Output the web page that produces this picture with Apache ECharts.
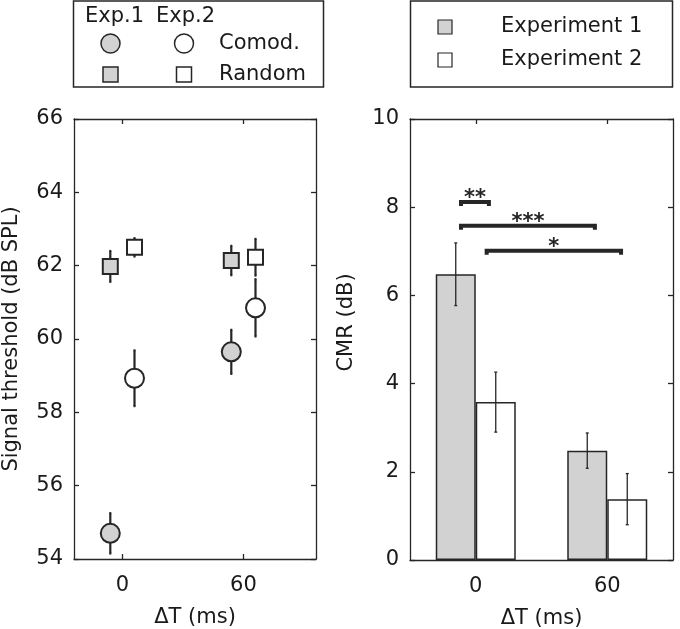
<!DOCTYPE html>
<html><head><meta charset="utf-8">
<script src="https://cdn.jsdelivr.net/npm/echarts@6/dist/echarts.min.js"></script>
<style>html,body{margin:0;padding:0;background:#fff}#c{width:680px;height:629px}</style>
</head><body><div id="c"></div>
<script>
// ---- data ----
const dtLabels = ['0', '60'];
const dtValues = [0, 60];
// Left panel: signal threshold (dB SPL)
const exp1Comod = [54.70, 59.65];
const exp1ComodErr = [0.55, 0.60];
const exp2Comod = [58.93, 60.85];
const exp2ComodErr = [0.76, 0.78];
const exp1Random = [61.98, 62.14];
const exp1RandomErr = [0.42, 0.40];
const exp2Random = [62.50, 62.23];
const exp2RandomErr = [0.25, 0.50];
// Right panel: CMR (dB)
const cmrExp1 = [6.48, 2.48];
const cmrExp1Err = [0.71, 0.40];
const cmrExp2 = [3.58, 1.38];
const cmrExp2Err = [0.68, 0.58];
// significance brackets (x in bar-slot units 1..2, y in dB)
const sigLabels = ['**', '***', '*'];
const sigFrom = [0.888, 0.888, 1.083];
const sigTo = [1.10, 1.906, 2.105];
const sigLevel = [8.12, 7.58, 7.01];

// ---- style ----
const INK = '#262626';
const GRAY = '#d2d2d2';
const FONT = 'DejaVu Sans';
const FS = 21;
const DODGE = 6;      // horizontal dodge of Exp.1 / Exp.2 markers (ms units)
const BAR_W = 40;

const chart = echarts.init(document.getElementById('c'), null, {renderer: 'canvas'});

function errRender(capHalf, lw, pxShift) {
  return function (params, api) {
    const x = api.value(0), y = api.value(1), e = api.value(2);
    const t = api.coord([x, y + e]), b = api.coord([x, y - e]);
    const cx = t[0] + (pxShift || 0);
    const st = {stroke: INK, lineWidth: lw};
    return {type: 'group', children: [
      {type: 'line', shape: {x1: cx, y1: t[1], x2: cx, y2: b[1]}, style: st},
      {type: 'line', shape: {x1: cx - capHalf, y1: t[1], x2: cx + capHalf, y2: t[1]}, style: st},
      {type: 'line', shape: {x1: cx - capHalf, y1: b[1], x2: cx + capHalf, y2: b[1]}, style: st}
    ]};
  };
}

function pts(vals, shift) { return dtValues.map((d, i) => [d + shift, vals[i]]); }
function errPts(vals, errs, shift) { return dtValues.map((d, i) => [d + shift, vals[i], errs[i]]); }

const axisLineStyle = {show: true, onZero: false, lineStyle: {color: INK, width: 1.3}};
const tickStyle = {color: INK, width: 1.3};
const labelStyle = {color: '#1a1a1a', fontFamily: FONT, fontSize: FS};

const option = {
  animation: false,
  backgroundColor: '#fff',
  grid: [
    {left: 74, top: 119, width: 242, height: 440, containLabel: false, outerBoundsMode: 'none'},
    {left: 410, top: 119, width: 263, height: 441, containLabel: false, outerBoundsMode: 'none'}
  ],
  xAxis: [
    {gridIndex: 0, type: 'value', min: -24, max: 96, position: 'bottom',
     axisLine: axisLineStyle, splitLine: {show: false},
     axisTick: {show: true, inside: true, length: 5, customValues: dtValues, lineStyle: tickStyle},
     axisLabel: Object.assign({customValues: dtValues, margin: 16}, labelStyle),
     name: 'ΔT (ms)', nameLocation: 'middle', nameGap: 48, nameTextStyle: labelStyle},
    {gridIndex: 0, type: 'value', min: -24, max: 96, position: 'top',
     axisLine: axisLineStyle, splitLine: {show: false},
     axisTick: {show: true, inside: true, length: 5, customValues: dtValues, lineStyle: tickStyle},
     axisLabel: {show: false}},
    {gridIndex: 1, type: 'category', data: dtLabels, position: 'bottom',
     axisLine: axisLineStyle, axisTick: {show: false},
     axisLabel: Object.assign({margin: 16}, labelStyle),
     name: 'ΔT (ms)', nameLocation: 'middle', nameGap: 48, nameTextStyle: labelStyle},
    {gridIndex: 1, type: 'value', min: 0.5, max: 2.5, position: 'top',
     axisLine: axisLineStyle, splitLine: {show: false},
     axisTick: {show: true, inside: true, length: 5, customValues: [1, 2], lineStyle: tickStyle},
     axisLabel: {show: false}}
  ],
  yAxis: [
    {gridIndex: 0, type: 'value', min: 54, max: 66, interval: 2, position: 'left',
     axisLine: axisLineStyle, splitLine: {show: false},
     axisTick: {show: true, inside: true, length: 5, lineStyle: tickStyle},
     axisLabel: Object.assign({margin: 11}, labelStyle),
     name: 'Signal threshold (dB SPL)', nameLocation: 'middle', nameGap: 52, nameTextStyle: labelStyle},
    {gridIndex: 0, type: 'value', min: 54, max: 66, interval: 2, position: 'right',
     axisLine: axisLineStyle, splitLine: {show: false},
     axisTick: {show: true, inside: true, length: 5, lineStyle: tickStyle},
     axisLabel: {show: false}},
    {gridIndex: 1, type: 'value', min: 0, max: 10, interval: 2, position: 'left',
     axisLine: axisLineStyle, splitLine: {show: false},
     axisTick: {show: true, inside: true, length: 5, lineStyle: tickStyle},
     axisLabel: Object.assign({margin: 11}, labelStyle),
     name: 'CMR (dB)', nameLocation: 'middle', nameGap: 53,
     nameTextStyle: Object.assign({padding: [0, 0, 0, 34]}, labelStyle)},
    {gridIndex: 1, type: 'value', min: 0, max: 10, interval: 2, position: 'right',
     axisLine: axisLineStyle, splitLine: {show: false},
     axisTick: {show: true, inside: true, length: 5, lineStyle: tickStyle},
     axisLabel: {show: false}}
  ],
  series: [
    // error bars, left panel
    {type: 'custom', xAxisIndex: 0, yAxisIndex: 0, z: 2, renderItem: errRender(1, 2.2),
     data: [].concat(errPts(exp1Comod, exp1ComodErr, -DODGE), errPts(exp2Comod, exp2ComodErr, DODGE),
                     errPts(exp1Random, exp1RandomErr, -DODGE), errPts(exp2Random, exp2RandomErr, DODGE))},
    {name: 'Exp.1 Comod.', type: 'scatter', xAxisIndex: 0, yAxisIndex: 0, z: 3, symbol: 'circle', symbolSize: 19,
     itemStyle: {color: GRAY, borderColor: INK, borderWidth: 2, opacity: 1}, data: pts(exp1Comod, -DODGE)},
    {name: 'Exp.2 Comod.', type: 'scatter', xAxisIndex: 0, yAxisIndex: 0, z: 3, symbol: 'circle', symbolSize: 19,
     itemStyle: {color: '#fff', borderColor: INK, borderWidth: 2, opacity: 1}, data: pts(exp2Comod, DODGE)},
    {name: 'Exp.1 Random', type: 'scatter', xAxisIndex: 0, yAxisIndex: 0, z: 3, symbol: 'rect', symbolSize: 15,
     itemStyle: {color: GRAY, borderColor: INK, borderWidth: 2, opacity: 1}, data: pts(exp1Random, -DODGE)},
    {name: 'Exp.2 Random', type: 'scatter', xAxisIndex: 0, yAxisIndex: 0, z: 3, symbol: 'rect', symbolSize: 15,
     itemStyle: {color: '#fff', borderColor: INK, borderWidth: 2, opacity: 1}, data: pts(exp2Random, DODGE)},
    // bars, right panel
    {name: 'Experiment 1', type: 'bar', xAxisIndex: 2, yAxisIndex: 2, barWidth: BAR_W, barGap: '0%', z: 2,
     itemStyle: {color: GRAY, borderColor: INK, borderWidth: 1.5}, data: cmrExp1},
    {name: 'Experiment 2', type: 'bar', xAxisIndex: 2, yAxisIndex: 2, barWidth: BAR_W, barGap: '0%', z: 2,
     itemStyle: {color: '#fff', borderColor: INK, borderWidth: 1.5}, data: cmrExp2},
    {type: 'custom', xAxisIndex: 2, yAxisIndex: 2, z: 4, renderItem: errRender(1.5, 1.3, -BAR_W / 2),
     data: cmrExp1.map((v, i) => [i, v, cmrExp1Err[i]])},
    {type: 'custom', xAxisIndex: 2, yAxisIndex: 2, z: 4, renderItem: errRender(1.5, 1.3, BAR_W / 2),
     data: cmrExp2.map((v, i) => [i, v, cmrExp2Err[i]])},
    // significance brackets
    {type: 'custom', xAxisIndex: 3, yAxisIndex: 2, z: 5,
     data: sigLabels.map((s, i) => [sigFrom[i], sigTo[i], sigLevel[i], i]),
     renderItem: function (params, api) {
       const a = api.coord([api.value(0), api.value(2)]);
       const b = api.coord([api.value(1), api.value(2)]);
       const lbl = sigLabels[api.value(3)];
       return {type: 'group', children: [
         {type: 'polyline', shape: {points: [[a[0], a[1] + 4], [a[0], a[1]], [b[0], b[1]], [b[0], b[1] + 4]]},
          style: {stroke: INK, lineWidth: 4, fill: null, lineJoin: 'miter'}},
         {type: 'text', x: (a[0] + b[0]) / 2, y: a[1] - 3,
          style: {text: lbl, fill: INK, font: 'bold 21px "DejaVu Sans"', textAlign: 'center', textVerticalAlign: 'middle'}}
       ]};
     }}
  ],
  graphic: [
    // left legend
    {type: 'rect', shape: {x: 73.5, y: 1, width: 250, height: 86}, style: {fill: '#fff', stroke: INK, lineWidth: 1.5}},
    {type: 'text', x: 85, y: 17, style: {text: 'Exp.1', font: FS + 'px "DejaVu Sans"', fill: '#1a1a1a', textVerticalAlign: 'middle'}},
    {type: 'text', x: 156, y: 17, style: {text: 'Exp.2', font: FS + 'px "DejaVu Sans"', fill: '#1a1a1a', textVerticalAlign: 'middle'}},
    {type: 'circle', shape: {cx: 110.5, cy: 43.5, r: 9.5}, style: {fill: GRAY, stroke: INK, lineWidth: 1.5}},
    {type: 'circle', shape: {cx: 184, cy: 43.5, r: 9.5}, style: {fill: '#fff', stroke: INK, lineWidth: 1.5}},
    {type: 'text', x: 219, y: 43.5, style: {text: 'Comod.', font: FS + 'px "DejaVu Sans"', fill: '#1a1a1a', textVerticalAlign: 'middle'}},
    {type: 'rect', shape: {x: 103, y: 67, width: 15, height: 15}, style: {fill: GRAY, stroke: INK, lineWidth: 1.5}},
    {type: 'rect', shape: {x: 176.5, y: 67, width: 15, height: 15}, style: {fill: '#fff', stroke: INK, lineWidth: 1.5}},
    {type: 'text', x: 219, y: 74.5, style: {text: 'Random', font: FS + 'px "DejaVu Sans"', fill: '#1a1a1a', textVerticalAlign: 'middle'}},
    // right legend
    {type: 'rect', shape: {x: 410.5, y: 1, width: 262, height: 86}, style: {fill: '#fff', stroke: INK, lineWidth: 1.5}},
    {type: 'rect', shape: {x: 438, y: 20, width: 14, height: 14}, style: {fill: GRAY, stroke: INK, lineWidth: 1.2}},
    {type: 'rect', shape: {x: 438, y: 53, width: 14, height: 14}, style: {fill: '#fff', stroke: INK, lineWidth: 1.2}},
    {type: 'text', x: 501, y: 27, style: {text: 'Experiment 1', font: FS + 'px "DejaVu Sans"', fill: '#1a1a1a', textVerticalAlign: 'middle'}},
    {type: 'text', x: 501, y: 60, style: {text: 'Experiment 2', font: FS + 'px "DejaVu Sans"', fill: '#1a1a1a', textVerticalAlign: 'middle'}}
  ]
};
chart.setOption(option);
</script>
</body></html>
